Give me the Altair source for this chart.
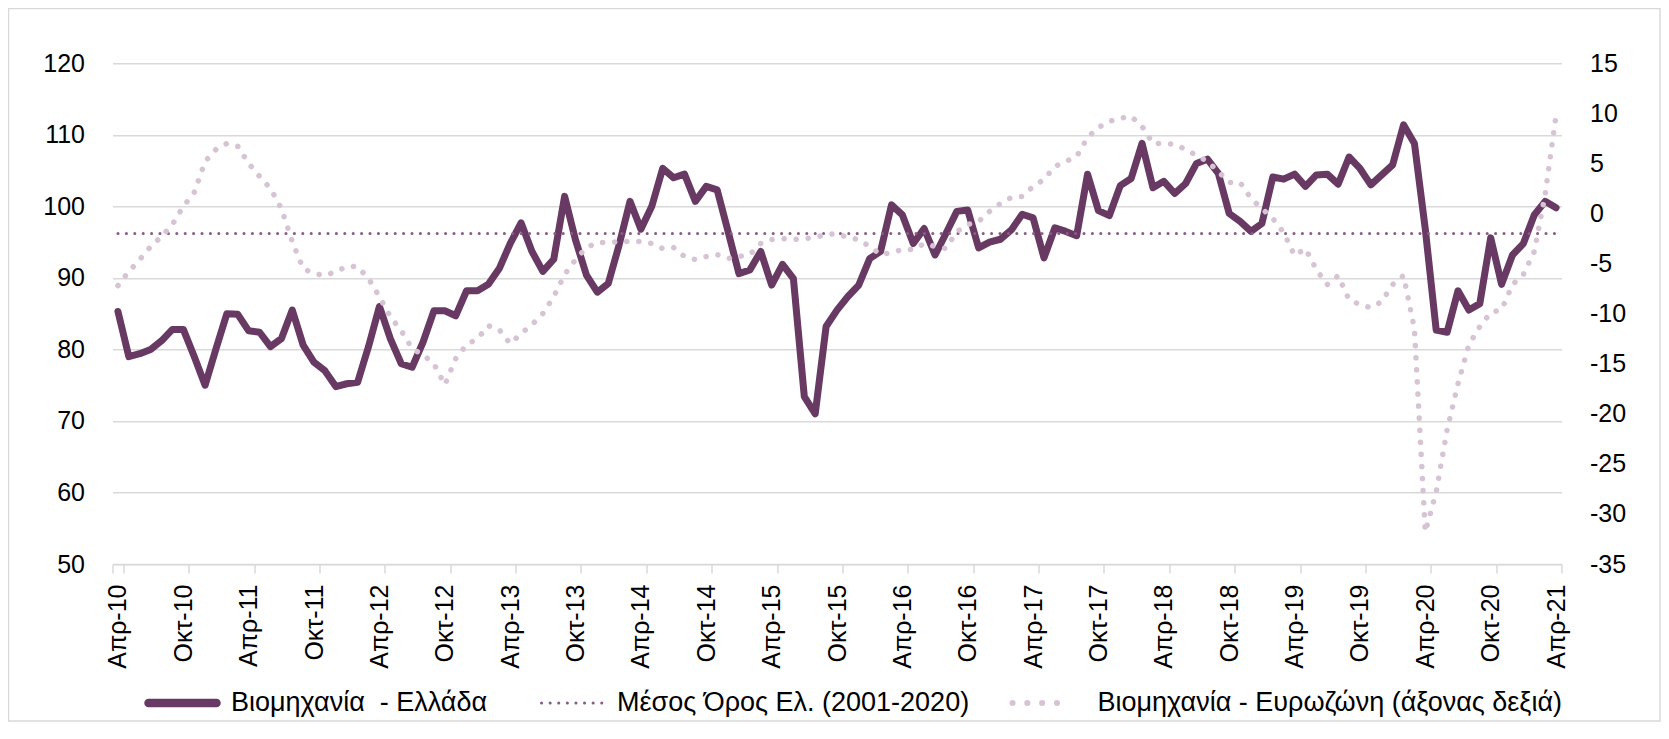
import altair as alt
import pandas as pd

# ---------------- data ----------------
month_names = ["Ιαν", "Φεβ", "Μαρ", "Απρ", "Μαϊ", "Ιουν", "Ιουλ", "Αυγ", "Σεπ", "Οκτ", "Νοε", "Δεκ"]
first_month_index = 3   # April
first_year = 10         # 2010
n_months = 133          # Apr-10 .. Apr-21
categories = [
    f"{month_names[(first_month_index + i) % 12]}-{first_year + (first_month_index + i) // 12:02d}"
    for i in range(n_months)
]

greece = [
    85.3, 79.0, 79.4, 80.0, 81.2, 82.8, 82.8, 79.0, 75.0, 80.1,
    85.0, 84.9, 82.6, 82.4, 80.4, 81.5, 85.5, 80.6, 78.2, 77.0,
    74.8, 75.2, 75.4, 80.4, 86.0, 81.5, 78.0, 77.5, 81.0, 85.4,
    85.4, 84.7, 88.2, 88.2, 89.1, 91.3, 94.8, 97.7, 93.7, 90.9,
    92.6, 101.4, 95.3, 90.4, 88.0, 89.2, 94.6, 100.7, 96.8, 100.0,
    105.3, 104.0, 104.5, 100.7, 102.8, 102.3, 96.5, 90.6, 91.1, 93.7,
    89.0, 91.9, 89.9, 73.4, 71.0, 83.2, 85.5, 87.4, 89.0, 92.7,
    93.7, 100.2, 98.8, 94.8, 96.9, 93.2, 96.2, 99.3, 99.5, 94.2,
    95.0, 95.4, 96.7, 98.9, 98.4, 92.8, 97.0, 96.5, 95.9, 104.5,
    99.4, 98.7, 102.9, 103.9, 108.8, 102.6, 103.5, 101.8, 103.2, 106.0,
    106.6, 104.6, 99.0, 97.9, 96.5, 97.6, 104.1, 103.8, 104.5, 102.8,
    104.4, 104.5, 103.1, 106.9, 105.3, 103.0, 104.4, 105.8, 111.4, 108.8,
    96.8, 82.7, 82.4, 88.2, 85.5, 86.4, 95.6, 89.1, 93.2, 94.8,
    98.8, 100.7, 99.8,
]

eurozone = [
    -7.2, -5.8, -4.6, -3.3, -2.3, -1.1, 0.7, 2.1, 5.2, 6.4,
    7.0, 6.7, 5.0, 3.7, 2.5, 0.5, -2.8, -5.5, -6.0, -6.2,
    -5.8, -5.3, -5.3, -6.5, -8.3, -10.3, -11.7, -13.5, -14.1, -15.0,
    -17.1, -14.5, -13.1, -12.5, -11.2, -11.6, -13.0, -12.0, -11.1, -10.0,
    -8.3, -6.1, -4.6, -3.4, -2.9, -2.9, -2.8, -2.8, -2.8, -3.0,
    -3.5, -3.4, -4.3, -4.6, -4.3, -4.1, -4.5, -4.3, -4.1, -3.0,
    -2.6, -2.5, -2.6, -2.5, -2.4, -2.1, -2.0, -2.4, -2.6, -3.3,
    -4.1, -3.9, -3.6, -3.6, -3.0, -3.3, -3.5, -1.8, -1.1, -0.8,
    0.2, 1.0, 1.6, 1.7, 2.7, 3.4, 4.7, 5.2, 5.7, 7.6,
    8.6, 9.2, 9.5, 9.7, 8.7, 7.0, 7.0, 6.9, 6.4, 5.8,
    5.2, 4.2, 3.1, 3.1, 1.5, 0.5, -0.5, -1.9, -4.2, -3.5,
    -5.6, -7.1, -6.2, -8.6, -9.1, -9.4, -8.8, -7.1, -6.2, -11.5,
    -31.8, -27.8, -21.6, -17.0, -13.1, -11.3, -9.9, -9.6, -7.1, -6.1,
    -3.8, 1.9, 9.8,
]

mean_greece = 96.2  # Μέσος Όρος 2001-2020

left_ticks = [50, 60, 70, 80, 90, 100, 110, 120]
right_ticks = [-35, -30, -25, -20, -15, -10, -5, 0, 5, 10, 15]
x_tick_labels = categories[::6]

legend_labels = [
    "Βιομηχανία\u00a0\u00a0- Ελλάδα",
    "Μέσος Όρος Ελ. (2001-2020)",
    "Βιομηχανία - Ευρωζώνη (άξονας δεξιά)",
]

df = pd.DataFrame({
    "month": categories,
    "greece": greece,
    "mean": [mean_greece] * n_months,
    "eurozone": eurozone,
})

# ---------------- style ----------------
FONT = "Liberation Sans"
C_GR = "#673963"
C_MEAN = "#8A5D86"
C_EZ = "#D6C4D4"
C_GRID = "#D9D9D9"

W, H = 1449, 500.7
PAD = {"left": 104.5, "top": 55.3, "right": 99.5, "bottom": 158}

x_enc = alt.X(
    "month:N",
    sort=categories,
    bandPosition=0.5,
    scale=alt.Scale(type="band", paddingInner=0, paddingOuter=0),
    axis=alt.Axis(
        values=x_tick_labels,
        title=None,
        labelAngle=270,
        tickBand="extent",
        grid=False,
        domainColor=C_GRID,
        domainWidth=1.5,
        tickColor=C_GRID,
        tickWidth=1.5,
        tickSize=9,
        labelPadding=11,
        labelFont=FONT,
        labelFontSize=25,
        labelColor="#000000",
    ),
)

left_axis = alt.Axis(
    values=left_ticks,
    title=None,
    grid=True,
    gridColor=C_GRID,
    gridWidth=1.5,
    domain=False,
    ticks=False,
    labelPadding=28,
    labelFont=FONT,
    labelFontSize=25,
    labelColor="#000000",
)

right_axis = alt.Axis(
    orient="right",
    values=right_ticks,
    title=None,
    grid=False,
    domain=False,
    ticks=False,
    labelPadding=28,
    labelFont=FONT,
    labelFontSize=25,
    labelColor="#000000",
    labelExpr="toString(datum.value)",
)

base = alt.Chart(df)

greek_line = base.mark_line(
    color=C_GR, strokeWidth=7, strokeJoin="round", strokeCap="round"
).encode(
    x=x_enc,
    y=alt.Y("greece:Q", scale=alt.Scale(domain=[50, 120], nice=False, zero=False), axis=left_axis),
)

mean_line = base.mark_line(
    color=C_MEAN, strokeWidth=3, strokeDash=[0.1, 8.3], strokeCap="round"
).encode(
    x=x_enc,
    y=alt.Y("mean:Q", scale=alt.Scale(domain=[50, 120], nice=False, zero=False), axis=left_axis),
)

ez_line = base.mark_line(
    color=C_EZ, strokeWidth=5.5, strokeDash=[0.1, 12], strokeCap="round"
).encode(
    x=x_enc,
    y=alt.Y("eurozone:Q", scale=alt.Scale(domain=[-35, 15], nice=False, zero=False), axis=right_axis),
)

# ---------------- legend (drawn manually) ----------------
LEG_Y = 639.7
leg_src = alt.Chart(pd.DataFrame({"k": [0]}))

leg_gr_sym = leg_src.mark_rule(color=C_GR, strokeWidth=8.5, strokeCap="round").encode(
    x=alt.value(36), x2=alt.value(104), y=alt.value(LEG_Y)
)
leg_mean_sym = leg_src.mark_rule(color=C_MEAN, strokeWidth=3, strokeDash=[0.1, 8.5], strokeCap="round").encode(
    x=alt.value(429), x2=alt.value(497), y=alt.value(LEG_Y)
)
leg_ez_sym = leg_src.mark_rule(color=C_EZ, strokeWidth=6, strokeDash=[0.1, 14.7], strokeCap="round").encode(
    x=alt.value(900), x2=alt.value(959), y=alt.value(LEG_Y)
)

def leg_text(label, xpos):
    return leg_src.mark_text(
        align="left", baseline="middle", font=FONT, fontSize=27, color="#000000"
    ).encode(x=alt.value(xpos), y=alt.value(LEG_Y), text=alt.value(label))

leg_t1 = leg_text(legend_labels[0], 118.5)
leg_t2 = leg_text(legend_labels[1], 504.5)
leg_t3 = leg_text(legend_labels[2], 985)

border = leg_src.mark_rect(fill=None, stroke=C_GRID, strokeWidth=1.5).encode(
    x=alt.value(-104), x2=alt.value(W + 98.5), y=alt.value(-54.8), y2=alt.value(H + 157)
)

chart = alt.layer(
    alt.layer(greek_line, mean_line),
    ez_line,
    leg_gr_sym, leg_mean_sym, leg_ez_sym, leg_t1, leg_t2, leg_t3, border,
).resolve_scale(
    y="independent"
).properties(
    width=W, height=H, padding=PAD, autosize=alt.AutoSizeParams(type="none"),
    background="#FFFFFF",
).configure_view(stroke=None)

chart.save("out.html", embed_options={"renderer": "svg", "actions": False})
